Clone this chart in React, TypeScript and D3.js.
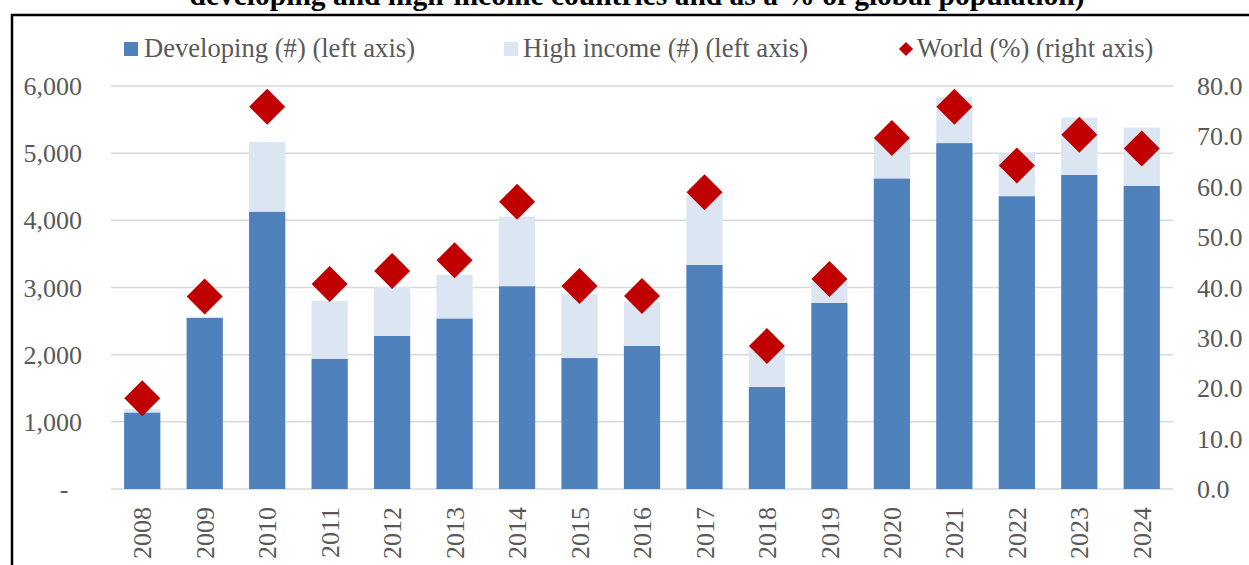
import React from "react";
import * as d3 from "d3";

// values
const years = ["2008", "2009", "2010", "2011", "2012", "2013", "2014", "2015", "2016",
  "2017", "2018", "2019", "2020", "2021", "2022", "2023", "2024"];
const developing = [1140, 2550, 4130, 1940, 2280, 2540, 3020, 1950, 2130,
  3335, 1520, 2770, 4625, 5150, 4360, 4675, 4515];
const highIncome = [50, 15, 1035, 860, 730, 650, 1035, 955, 660,
  1040, 600, 317, 625, 690, 640, 855, 865];
const worldPct = [18.0, 38.2, 75.9, 40.7, 43.3, 45.4, 57.0, 40.3, 38.3,
  58.9, 28.4, 41.7, 69.7, 75.9, 64.2, 70.3, 67.6];
const leftTicks = [0, 1000, 2000, 3000, 4000, 5000, 6000];
const rightTicks = [0, 10, 20, 30, 40, 50, 60, 70, 80];

const title = "developing and high-income countries and as a % of global population)";

const W = 1249, H = 565;
const FONT = "'Liberation Serif', 'Times New Roman', serif";
const TXT = "#595959";
const DEV = "#4f81bd";
const HI = "#dce6f2";
const RED = "#c00000";

export default function App() {
  const x = d3.scaleBand().domain(years).range([111, 1173]).paddingInner(0.42).paddingOuter(0.21);
  const y = d3.scaleLinear().domain([0, 6000]).range([489, 86]);
  const y2 = d3.scaleLinear().domain([0, 80]).range([489, 86]);
  const fmtL = d3.format(",");
  const fmtR = d3.format(".1f");
  const diamond = d3.symbol().type(d3.symbolSquare).size(648)();
  const smallDiamond = d3.symbol().type(d3.symbolSquare).size(100)();

  return (
    <svg width={W} height={H} style={{ position: "absolute", left: 0, top: 0, background: "#fff" }}
      fontFamily={FONT}>
      <text x={637} y={5} textAnchor="middle" fontSize={29.5} fontWeight="bold" fill="#000">{title}</text>
      <path d={`M12,${H + 5} L12,15 L${W + 5},15`} fill="none" stroke="#000" strokeWidth={2.5} />

      {/* legend */}
      <rect x={124} y={42} width={14} height={14} fill={DEV} />
      <text x={144} y={57} fontSize={26.6} fill={TXT}>Developing (#) (left axis)</text>
      <rect x={504} y={42} width={14} height={14} fill={HI} />
      <text x={523} y={57} fontSize={26.6} fill={TXT}>High income (#) (left axis)</text>
      <path d={smallDiamond} transform="translate(906,49) rotate(45)" fill={RED} />
      <text x={917} y={57} fontSize={26.6} fill={TXT}>World (%) (right axis)</text>

      {/* grid + left axis */}
      {leftTicks.map(t => (
        <g key={t}>
          <line x1={111} x2={1173} y1={y(t)} y2={y(t)} stroke="#d9d9d9" strokeWidth={1.5} />
          <text x={t === 0 ? 64 : 82} y={y(t)} dy="0.35em" textAnchor={t === 0 ? "middle" : "end"}
            fontSize={26} fill={TXT}>{t === 0 ? "-" : fmtL(t)}</text>
        </g>
      ))}
      {rightTicks.map(t => (
        <text key={t} x={1197} y={y2(t)} dy="0.35em" fontSize={26} fill={TXT}>{fmtR(t)}</text>
      ))}

      {/* stacked bars */}
      {years.map((yr, i) => {
        const bx = x(yr)!;
        const bw = x.bandwidth();
        const d = developing[i], h = highIncome[i];
        return (
          <g key={yr}>
            <rect x={bx} y={y(d)} width={bw} height={y(0) - y(d)} fill={DEV} />
            <rect x={bx} y={y(d + h)} width={bw} height={y(d) - y(d + h)} fill={HI} />
          </g>
        );
      })}

      {/* world % markers */}
      {years.map((yr, i) => (
        <path key={yr} d={diamond}
          transform={`translate(${x(yr)! + x.bandwidth() / 2},${y2(worldPct[i])}) rotate(45)`}
          fill={RED} />
      ))}

      {/* x labels */}
      {years.map(yr => {
        const cx = x(yr)! + x.bandwidth() / 2;
        return (
          <text key={yr} transform={`translate(${cx},507) rotate(-90)`} dy="0.35em" textAnchor="end"
            fontSize={26} fill={TXT}>{yr}</text>
        );
      })}
    </svg>
  );
}
